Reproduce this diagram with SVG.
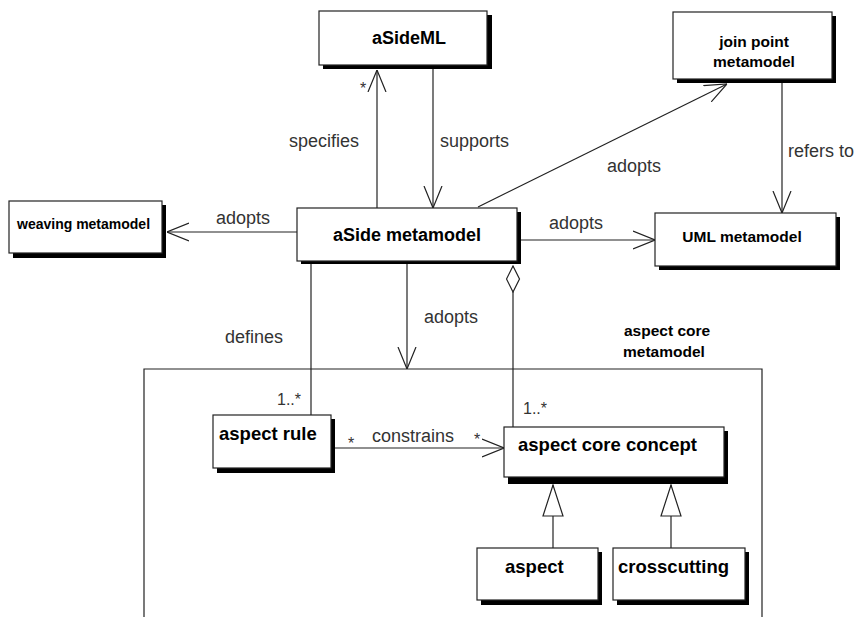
<svg xmlns="http://www.w3.org/2000/svg" width="861" height="617" viewBox="0 0 861 617">
<style>
.bg{fill:#fff}
.shadow{fill:#000}
.box{fill:#fff;stroke:#222;stroke-width:1.2}
.t{font-family:"Liberation Sans",Arial,sans-serif;font-weight:bold;fill:#000}
.lbl{font-family:"Liberation Sans",Arial,sans-serif;font-size:18px;fill:#333}
.mult{font-family:"Liberation Sans",Arial,sans-serif;font-size:16px;fill:#333}
.edge{fill:none;stroke:#222;stroke-width:1.2}
</style>
<defs>
<marker id="open" viewBox="0 0 22 20" refX="22" refY="10" markerWidth="22" markerHeight="20" markerUnits="userSpaceOnUse" orient="auto">
<path d="M0,1 L22,10 L0,19" fill="none" stroke="#222" stroke-width="1.2"/>
</marker>
<marker id="gen" viewBox="-1 -1 33 22" refX="31" refY="10" markerWidth="33" markerHeight="22" markerUnits="userSpaceOnUse" orient="auto">
<path d="M0,0 L31,10 L0,20 Z" fill="#fff" stroke="#222" stroke-width="1.2"/>
</marker>
<marker id="diamond" viewBox="-1 -1 28 15" refX="0" refY="6.5" markerWidth="28" markerHeight="15" markerUnits="userSpaceOnUse" orient="auto">
<path d="M0,6.5 L13,0 L26,6.5 L13,13 Z" fill="#fff" stroke="#222" stroke-width="1.2"/>
</marker>
</defs>
<rect class="bg" x="0" y="0" width="861" height="617"/>

<g id="package-aspect-core-metamodel">
<path class="edge" d="M144,617 V369 H762 V617"/>
<text class="t" font-size="15.5" x="624" y="336">aspect core</text>
<text class="t" font-size="15.5" x="623" y="357">metamodel</text>
</g>

<g id="connectors">
<line class="edge" x1="377" y1="208" x2="377" y2="70" marker-end="url(#open)"/>
<line class="edge" x1="433" y1="69" x2="433" y2="208" marker-end="url(#open)"/>
<line class="edge" x1="297" y1="232" x2="167" y2="232" marker-end="url(#open)"/>
<line class="edge" x1="521" y1="240" x2="655" y2="240" marker-end="url(#open)"/>
<line class="edge" x1="478" y1="207" x2="727" y2="84" marker-end="url(#open)"/>
<line class="edge" x1="782" y1="83" x2="782" y2="213" marker-end="url(#open)"/>
<line class="edge" x1="407" y1="264" x2="407" y2="369" marker-end="url(#open)"/>
<line class="edge" x1="311" y1="264" x2="311" y2="415"/>
<line class="edge" x1="513" y1="266" x2="513" y2="427" marker-start="url(#diamond)"/>
<line class="edge" x1="335" y1="448" x2="504" y2="448" marker-end="url(#open)"/>
<line class="edge" x1="553" y1="548" x2="553" y2="485" marker-end="url(#gen)"/>
<line class="edge" x1="671" y1="548" x2="671" y2="485" marker-end="url(#gen)"/>
<text class="lbl" x="359" y="147" text-anchor="end">specifies</text>
<text class="mult" x="360" y="94">*</text>
<text class="lbl" x="440" y="147">supports</text>
<text class="lbl" x="607" y="172">adopts</text>
<text class="lbl" x="788" y="157">refers to</text>
<text class="lbl" x="216" y="224">adopts</text>
<text class="lbl" x="549" y="229">adopts</text>
<text class="lbl" x="424" y="323">adopts</text>
<text class="lbl" x="225" y="343">defines</text>
<text class="mult" x="277" y="405">1..*</text>
<text class="mult" x="523" y="414">1..*</text>
<text class="mult" x="348" y="449">*</text>
<text class="lbl" x="372" y="442">constrains</text>
<text class="mult" x="474" y="445">*</text>
</g>

<g id="node-asideml">
<rect class="shadow" x="323" y="15" width="169" height="54"/>
<rect class="box" x="319" y="11" width="168" height="54"/>
<text class="t" font-size="18" x="409" y="44" text-anchor="middle">aSideML</text>
</g>

<g id="node-join-point-metamodel">
<rect class="shadow" x="677" y="16" width="159" height="67"/>
<rect class="box" x="673" y="12" width="159" height="67"/>
<text class="t" font-size="15.5" x="754" y="47" text-anchor="middle">join point</text>
<text class="t" font-size="15.5" x="754" y="67" text-anchor="middle">metamodel</text>
</g>

<g id="node-weaving-metamodel">
<rect class="shadow" x="13" y="205" width="153" height="53"/>
<rect class="box" x="9" y="201" width="153" height="52"/>
<text class="t" font-size="14" x="17" y="229">weaving metamodel</text>
</g>

<g id="node-aside-metamodel">
<rect class="shadow" x="301" y="212" width="220" height="52"/>
<rect class="box" x="297" y="208" width="220" height="53"/>
<text class="t" font-size="18" x="407" y="241" text-anchor="middle">aSide metamodel</text>
</g>

<g id="node-uml-metamodel">
<rect class="shadow" x="659" y="217" width="181" height="53"/>
<rect class="box" x="655" y="213" width="181" height="53"/>
<text class="t" font-size="15.5" x="742" y="242" text-anchor="middle">UML metamodel</text>
</g>

<g id="node-aspect-rule">
<rect class="shadow" x="217" y="419" width="118" height="54"/>
<rect class="box" x="213" y="415" width="118" height="53"/>
<text class="t" font-size="18.5" x="219" y="440">aspect rule</text>
</g>

<g id="node-aspect-core-concept">
<rect class="shadow" x="508" y="431" width="220" height="53"/>
<rect class="box" x="504" y="427" width="220" height="50"/>
<text class="t" font-size="18.5" x="518" y="451">aspect core concept</text>
</g>

<g id="node-aspect">
<rect class="shadow" x="481" y="552" width="121" height="53"/>
<rect class="box" x="477" y="548" width="121" height="52"/>
<text class="t" font-size="18.5" x="505" y="573">aspect</text>
</g>

<g id="node-crosscutting">
<rect class="shadow" x="617" y="552" width="132" height="53"/>
<rect class="box" x="613" y="548" width="132" height="52"/>
<text class="t" font-size="18.5" x="618" y="573">crosscutting</text>
</g>
</svg>
